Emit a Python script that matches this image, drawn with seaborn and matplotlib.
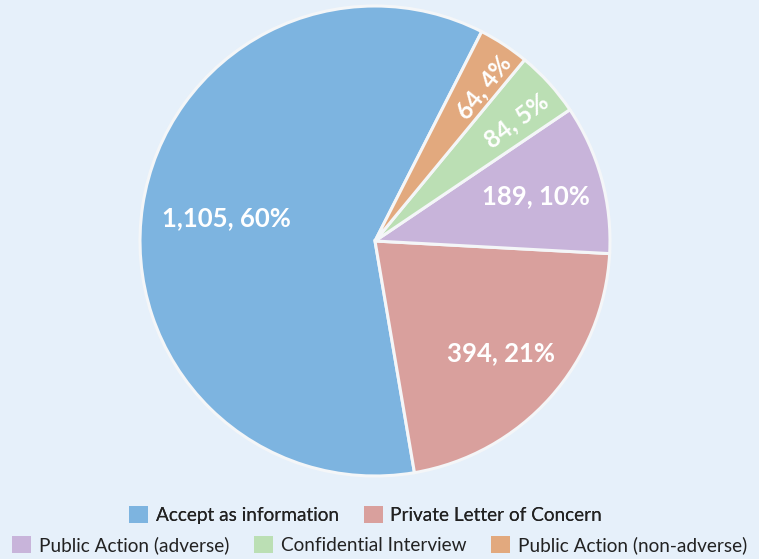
import numpy as np
import seaborn as sns
import matplotlib.pyplot as plt
from matplotlib.patches import Patch

# dati
categories = ["Accept as information", "Private Letter of Concern",
              "Public Action (adverse)", "Confidential Interview",
              "Public Action (non-adverse)"]
counts = [1105, 394, 189, 84, 64]
pct_labels = ["60%", "21%", "10%", "5%", "4%"]

colors = sns.color_palette(["#7DB4E0", "#D9A09D", "#C8B4DA", "#BBDFB4", "#E2A97E"])
bg = "#E6F0FA"

sns.set_theme(style="white")
plt.rcParams['font.family'] = ['Lato', 'DejaVu Sans']

fig = plt.figure(figsize=(7.59, 5.59), dpi=100, facecolor=bg)
ax = fig.add_axes([0, 0, 1, 1])
ax.set_facecolor(bg)

wedges, _ = ax.pie(counts, colors=colors, startangle=63, counterclock=True,
                   wedgeprops=dict(edgecolor="#F4F6F8", linewidth=2.2))

# etichette dentro le fette (le fette piccole hanno il testo ruotato)
label_r = [0.64, 0.72, 0.71, 0.79, 0.80]
for i, w in enumerate(wedges):
    mid_deg = (w.theta1 + w.theta2) / 2
    small = counts[i] < 100
    if small:
        mid_deg -= 2
    mid = np.deg2rad(mid_deg)
    x, y = label_r[i] * np.cos(mid), label_r[i] * np.sin(mid)
    rot = mid_deg - 3 if small else 0
    ax.text(x, y, f"{counts[i]:,}, {pct_labels[i]}", ha="center", va="center",
            rotation=rot, rotation_mode="anchor", color="white",
            fontsize=17.5 if small else 18.5, fontweight="bold")

ax.set_xlim(-375 / 235, (759 - 375) / 235)
ax.set_ylim(-318 / 235, (559 - 318) / 235)
ax.axis("off")

handles = [Patch(facecolor=c, edgecolor="none") for c in colors]
kw = dict(frameon=False, fontsize=13.7, handlelength=1.0, handleheight=1.0,
          handletextpad=0.4, columnspacing=1.3, borderpad=0, labelcolor="#222222")
leg1 = fig.legend(handles[:2], categories[:2], ncol=2, loc="center",
                  bbox_to_anchor=(0.482, 0.078), **kw)
fig.add_artist(leg1)
fig.legend(handles[2:], categories[2:], ncol=3, loc="center",
           bbox_to_anchor=(0.5, 0.025), **kw)

fig.savefig("out.png", dpi=100, facecolor=bg)
